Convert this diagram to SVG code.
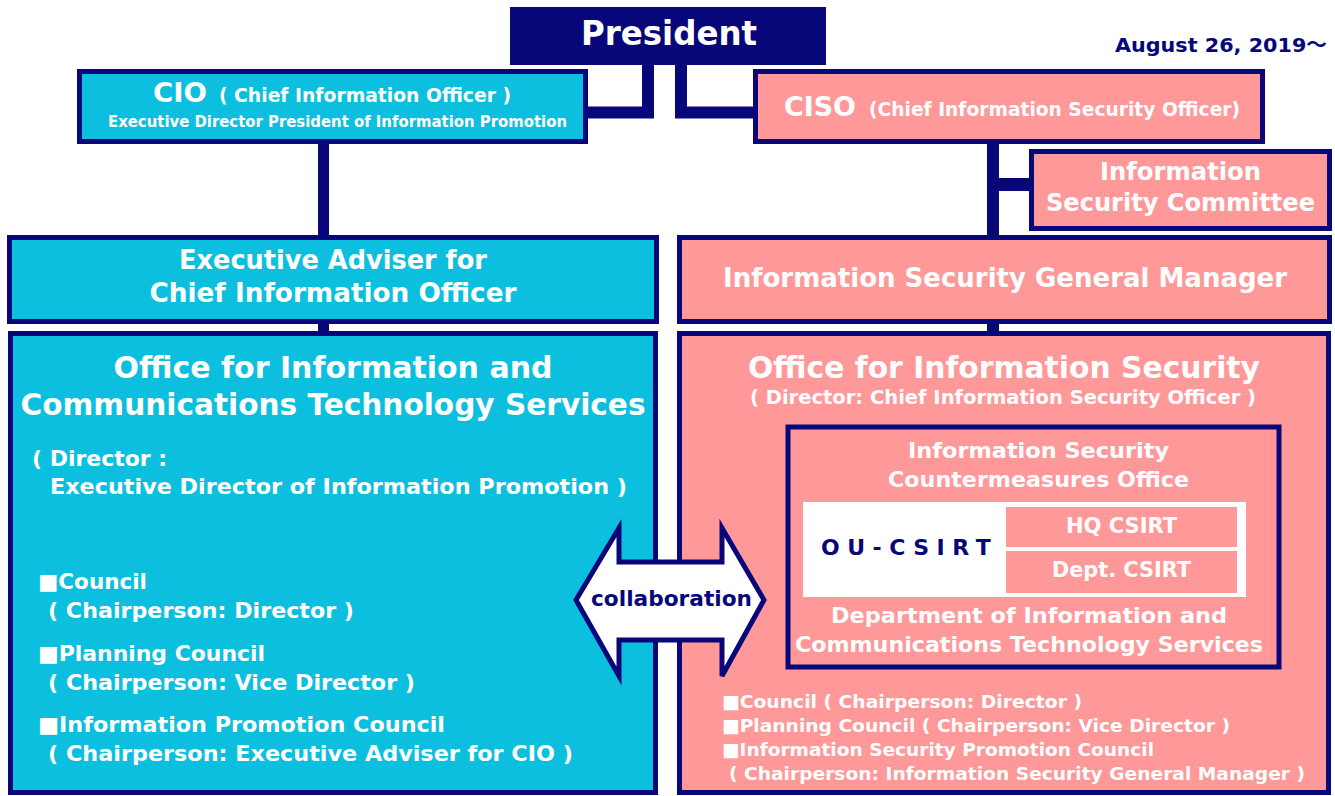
<svg xmlns="http://www.w3.org/2000/svg" width="1335" height="796" viewBox="0 0 1335 796">
<style>
text{font-family:"DejaVu Sans","Noto Sans CJK JP",sans-serif;font-weight:bold;fill:#fff}
.c{text-anchor:middle}
.n{fill:#07077a}
.cy{fill:#0cbfde;stroke:#07077a;stroke-width:5}
.pk{fill:#ff9999;stroke:#07077a;stroke-width:5}
.ln{fill:none;stroke:#07077a;stroke-linejoin:miter}
</style>
<rect width="1335" height="796" fill="#fff"/>
<g id="connectors">
<path class="ln" stroke-width="12" d="M648,64 L648,112.5 L586,112.5"/>
<path class="ln" stroke-width="12" d="M681,64 L681,112.5 L756,112.5"/>
<path class="ln" stroke-width="11" d="M323.5,142 V238"/>
<path class="ln" stroke-width="12" d="M993,142 V238"/>
<path class="ln" stroke-width="13" d="M993,184.5 H1032"/>
<path class="ln" stroke-width="11" d="M323.5,322 V335"/>
<path class="ln" stroke-width="12" d="M993,322 V335"/>
</g>
<g id="president">
<rect x="510" y="7" width="316" height="58" fill="#07077a"/>
<text class="c" x="669" y="45" font-size="34" textLength="176" lengthAdjust="spacingAndGlyphs">President</text>
</g>
<g id="date">
<text class="n" x="1115" y="52" font-size="20" textLength="212" lengthAdjust="spacingAndGlyphs">August 26, 2019～</text>
</g>
<g id="cio">
<rect class="cy" x="79.5" y="71.5" width="506" height="70"/>
<text x="153" y="102" font-size="27" textLength="54" lengthAdjust="spacingAndGlyphs">CIO</text>
<text x="219" y="102" font-size="19" textLength="292" lengthAdjust="spacingAndGlyphs">( Chief Information Officer )</text>
<text x="108" y="127" font-size="15" textLength="459" lengthAdjust="spacingAndGlyphs">Executive Director President of Information Promotion</text>
</g>
<g id="ciso">
<rect class="pk" x="755.5" y="71.5" width="507" height="70"/>
<text x="784" y="116" font-size="26" textLength="72" lengthAdjust="spacingAndGlyphs">CISO</text>
<text x="869" y="116" font-size="19" textLength="371" lengthAdjust="spacingAndGlyphs">(Chief Information Security Officer)</text>
</g>
<g id="committee">
<rect class="pk" x="1031.5" y="151.5" width="298" height="77"/>
<text class="c" x="1180.5" y="180" font-size="24" textLength="161" lengthAdjust="spacingAndGlyphs">Information</text>
<text class="c" x="1180.5" y="211" font-size="24" textLength="269" lengthAdjust="spacingAndGlyphs">Security Committee</text>
</g>
<g id="adviser">
<rect class="cy" x="9.5" y="237.5" width="647" height="84"/>
<text class="c" x="333" y="269" font-size="26" textLength="308" lengthAdjust="spacingAndGlyphs">Executive Adviser for</text>
<text class="c" x="333" y="302" font-size="26" textLength="367" lengthAdjust="spacingAndGlyphs">Chief Information Officer</text>
</g>
<g id="isgm">
<rect class="pk" x="679.5" y="237.5" width="650" height="84"/>
<text class="c" x="1005" y="287" font-size="26" textLength="564" lengthAdjust="spacingAndGlyphs">Information Security General Manager</text>
</g>
<g id="ict-office">
<rect class="cy" x="10.5" y="333.5" width="645" height="459"/>
<text class="c" x="333" y="378" font-size="29.5" textLength="439" lengthAdjust="spacingAndGlyphs">Office for Information and</text>
<text class="c" x="333" y="415" font-size="29.5" textLength="625" lengthAdjust="spacingAndGlyphs">Communications Technology Services</text>
<text x="32" y="466" font-size="22" textLength="135" lengthAdjust="spacingAndGlyphs">( Director :</text>
<text x="50" y="494" font-size="22" textLength="577" lengthAdjust="spacingAndGlyphs">Executive Director of Information Promotion )</text>
<text x="38" y="589" font-size="22" textLength="109" lengthAdjust="spacingAndGlyphs">■Council</text>
<text x="48" y="618" font-size="22" textLength="306" lengthAdjust="spacingAndGlyphs">( Chairperson: Director )</text>
<text x="38" y="661" font-size="22" textLength="227" lengthAdjust="spacingAndGlyphs">■Planning Council</text>
<text x="48" y="690" font-size="22" textLength="367" lengthAdjust="spacingAndGlyphs">( Chairperson: Vice Director )</text>
<text x="38" y="732" font-size="22" textLength="407" lengthAdjust="spacingAndGlyphs">■Information Promotion Council</text>
<text x="48" y="761" font-size="22" textLength="525" lengthAdjust="spacingAndGlyphs">( Chairperson: Executive Adviser for CIO )</text>
</g>
<g id="security-office">
<rect class="pk" x="679.5" y="333.5" width="649" height="459"/>
<text class="c" x="1004" y="378" font-size="29.5" textLength="512" lengthAdjust="spacingAndGlyphs">Office for Information Security</text>
<text class="c" x="1003" y="404" font-size="19.5" textLength="506" lengthAdjust="spacingAndGlyphs">( Director: Chief Information Security Officer )</text>
<text x="722" y="708" font-size="18.5" textLength="360" lengthAdjust="spacingAndGlyphs">■Council ( Chairperson: Director )</text>
<text x="722" y="732" font-size="18.5" textLength="508" lengthAdjust="spacingAndGlyphs">■Planning Council ( Chairperson: Vice Director )</text>
<text x="722" y="756" font-size="18.5" textLength="432" lengthAdjust="spacingAndGlyphs">■Information Security Promotion Council</text>
<text x="729" y="780" font-size="18.5" textLength="576" lengthAdjust="spacingAndGlyphs">( Chairperson: Information Security General Manager )</text>
</g>
<g id="countermeasures-office">
<rect class="pk" x="788" y="427" width="491" height="240" stroke-width="4.5"/>
<text class="c" x="1038.5" y="458" font-size="22" textLength="261" lengthAdjust="spacingAndGlyphs">Information Security</text>
<text class="c" x="1038.5" y="487" font-size="22" textLength="301" lengthAdjust="spacingAndGlyphs">Countermeasures Office</text>
<text class="c" x="1029" y="623" font-size="22" textLength="396" lengthAdjust="spacingAndGlyphs">Department of Information and</text>
<text class="c" x="1029" y="652" font-size="22" textLength="468" lengthAdjust="spacingAndGlyphs">Communications Technology Services</text>
</g>
<g id="ou-csirt">
<rect x="803" y="502" width="443" height="95" fill="#fff"/>
<text class="n" x="821" y="555" font-size="22" letter-spacing="7.5">OU-CSIRT</text>
</g>
<g id="hq-csirt">
<rect x="1006" y="507" width="231" height="40" fill="#ff9999"/>
<text class="c" x="1121.5" y="533" font-size="21" textLength="111" lengthAdjust="spacingAndGlyphs">HQ CSIRT</text>
</g>
<g id="dept-csirt">
<rect x="1006" y="551" width="231" height="42" fill="#ff9999"/>
<text class="c" x="1121.5" y="577" font-size="21" textLength="139" lengthAdjust="spacingAndGlyphs">Dept. CSIRT</text>
</g>
<g id="collaboration">
<polygon points="576,600 619,528 619,562 722,562 722,528 764,600 722,676 722,640 619,640 619,676" fill="#fff" stroke="#07077a" stroke-width="5" stroke-linejoin="miter"/>
<text class="n c" x="671.5" y="606" font-size="22" textLength="161" lengthAdjust="spacingAndGlyphs">collaboration</text>
</g>
</svg>
